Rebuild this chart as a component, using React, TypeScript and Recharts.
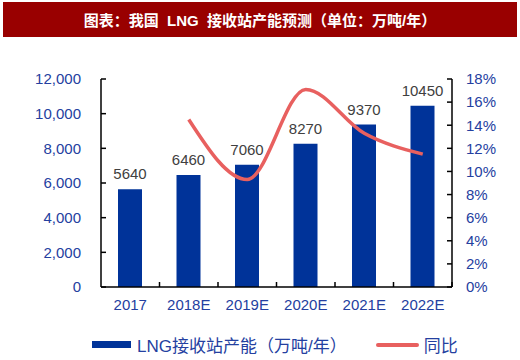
import { ComposedChart, Bar, Line, XAxis, YAxis, LabelList } from 'recharts';

const years = ['2017', '2018E', '2019E', '2020E', '2021E', '2022E'];
const capacity = [5640, 6460, 7060, 8270, 9370, 10450];
const yoy = [null, 14.5, 9.3, 17.1, 13.3, 11.5];
const leftTicks = [0, 2000, 4000, 6000, 8000, 10000, 12000];
const rightTicks = [0, 2, 4, 6, 8, 10, 12, 14, 16, 18];

const data = years.map((y, i) => ({ year: y, capacity: capacity[i], yoy: yoy[i] }));

const BLUE = '#003399';
const RED = '#e8605f';
const LABEL = '#2440a0';
const FONT = '"Liberation Sans", Arial, "Noto Sans CJK SC", sans-serif';

const XTick = (props: any) => {
  const { x, y, payload } = props;
  const half = payload.offset ?? 29.25;
  return (
    <g>
      <line x1={x + half} x2={x + half} y1={y} y2={y - 5} stroke="#000" strokeWidth={1.5} />
      <text x={x} y={y + 23} textAnchor="middle" fill={LABEL} fontSize={15} fontFamily={FONT}>
        {payload.value}
      </text>
    </g>
  );
};

export default function App() {
  return (
    <div style={{ position: 'absolute', left: 0, top: 0, width: 520, height: 360, background: '#fff' }}>
      <div
        style={{
          position: 'absolute',
          left: 3,
          top: 2,
          width: 514,
          height: 35,
          background: '#990000',
          color: '#fff',
          fontWeight: 'bold',
          fontSize: 15,
          fontFamily: FONT,
          display: 'flex',
          alignItems: 'center',
          justifyContent: 'center',
          whiteSpace: 'pre',
        }}
      >
        图表：我国  LNG  接收站产能预测（单位：万吨/年）
      </div>
      <ComposedChart
        width={520}
        height={360}
        data={data}
        margin={{ top: 79, right: 18, bottom: 43, left: 0 }}
        style={{ position: 'absolute', left: 0, top: 0 }}
      >
        <XAxis
          dataKey="year"
          tick={<XTick />}
          tickLine={false}
          tickSize={0}
          tickMargin={0}
          axisLine={{ stroke: '#000', strokeWidth: 1.5 }}
          height={30}
          interval={0}
        />
        <YAxis
          yAxisId="left"
          domain={[0, 12000]}
          ticks={leftTicks}
          interval={0}
          width={101}
          tickSize={-5}
          tickMargin={25}
          tickLine={{ stroke: '#000', strokeWidth: 1.5 }}
          axisLine={{ stroke: '#000', strokeWidth: 1.5 }}
          tick={{ fill: LABEL, fontSize: 15, fontFamily: FONT }}
          tickFormatter={(v: number) => v.toLocaleString('en-US')}
        />
        <YAxis
          yAxisId="right"
          orientation="right"
          domain={[0, 18]}
          ticks={rightTicks}
          interval={0}
          width={50}
          tickSize={-5}
          tickMargin={19}
          tickLine={{ stroke: '#000', strokeWidth: 1.5 }}
          axisLine={{ stroke: '#000', strokeWidth: 1.5 }}
          tick={{ fill: LABEL, fontSize: 15, fontFamily: FONT, textAnchor: 'start' }}
          tickFormatter={(v: number) => `${v}%`}
        />
        <Bar yAxisId="left" dataKey="capacity" fill={BLUE} barSize={24} isAnimationActive={false}>
          <LabelList dataKey="capacity" position="top" offset={10} fill="#404040" fontSize={15} fontFamily={FONT} />
        </Bar>
        <Line
          yAxisId="right"
          dataKey="yoy"
          type="monotone"
          stroke={RED}
          strokeWidth={3.5}
          dot={false}
          isAnimationActive={false}
        />
      </ComposedChart>
      <div
        style={{
          position: 'absolute',
          left: 0,
          top: 332,
          width: 520,
          display: 'flex',
          alignItems: 'center',
          fontFamily: FONT,
          fontSize: 17,
          color: LABEL,
        }}
      >
        <div style={{ marginLeft: 92, width: 39, height: 7, background: BLUE }} />
        <span style={{ marginLeft: 6 }}>LNG接收站产能（万吨/年）</span>
        <div style={{ marginLeft: 29, width: 43, height: 4, background: RED, borderRadius: 2 }} />
        <span style={{ marginLeft: 5 }}>同比</span>
      </div>
    </div>
  );
}
